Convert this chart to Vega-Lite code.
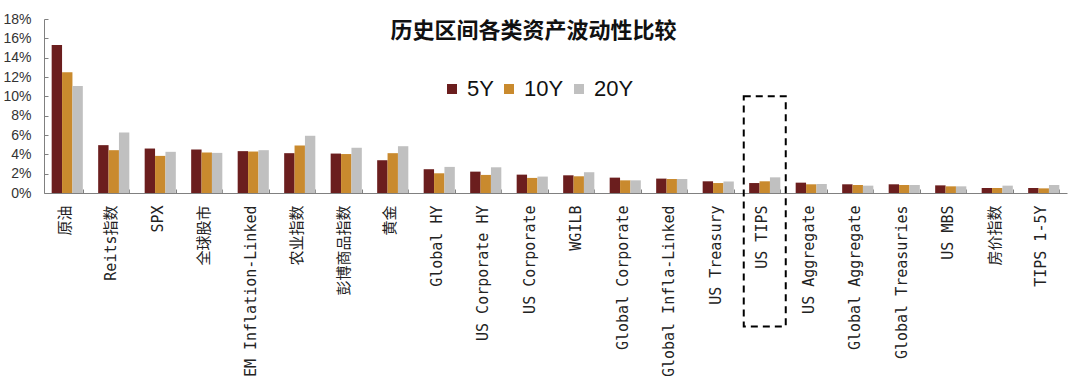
{
  "$schema": "https://vega.github.io/schema/vega-lite/v6.json",
  "width": 1023,
  "height": 174,
  "autosize": {"type": "none"},
  "padding": {"left": 44, "top": 19, "right": 13, "bottom": 183},
  "background": "white",
  "config": {"view": {"stroke": null}, "axis": {"labelOverlap": false}},
  "title": {
    "text": "历史区间各类资产波动性比较",
    "anchor": "middle",
    "font": "Noto Sans CJK SC",
    "fontSize": 22,
    "fontWeight": "bold",
    "color": "#111111",
    "dx": -22,
    "dy": 31,
    "offset": 0
  },
  "datasets": {
    "main": [
      {"c": "原油", "p": "5Y", "v": 15.3}, {"c": "原油", "p": "10Y", "v": 12.5}, {"c": "原油", "p": "20Y", "v": 11.07},
      {"c": "Reits指数", "p": "5Y", "v": 4.95}, {"c": "Reits指数", "p": "10Y", "v": 4.43}, {"c": "Reits指数", "p": "20Y", "v": 6.26},
      {"c": "SPX", "p": "5Y", "v": 4.6}, {"c": "SPX", "p": "10Y", "v": 3.84}, {"c": "SPX", "p": "20Y", "v": 4.26},
      {"c": "全球股市", "p": "5Y", "v": 4.5}, {"c": "全球股市", "p": "10Y", "v": 4.19}, {"c": "全球股市", "p": "20Y", "v": 4.15},
      {"c": "EM Inflation-Linked", "p": "5Y", "v": 4.33}, {"c": "EM Inflation-Linked", "p": "10Y", "v": 4.29}, {"c": "EM Inflation-Linked", "p": "20Y", "v": 4.43},
      {"c": "农业指数", "p": "5Y", "v": 4.12}, {"c": "农业指数", "p": "10Y", "v": 4.91}, {"c": "农业指数", "p": "20Y", "v": 5.92},
      {"c": "彭博商品指数", "p": "5Y", "v": 4.08}, {"c": "彭博商品指数", "p": "10Y", "v": 4.03}, {"c": "彭博商品指数", "p": "20Y", "v": 4.68},
      {"c": "黄金", "p": "5Y", "v": 3.39}, {"c": "黄金", "p": "10Y", "v": 4.12}, {"c": "黄金", "p": "20Y", "v": 4.84},
      {"c": "Global HY", "p": "5Y", "v": 2.46}, {"c": "Global HY", "p": "10Y", "v": 2.04}, {"c": "Global HY", "p": "20Y", "v": 2.7},
      {"c": "US Corporate HY", "p": "5Y", "v": 2.21}, {"c": "US Corporate HY", "p": "10Y", "v": 1.87}, {"c": "US Corporate HY", "p": "20Y", "v": 2.66},
      {"c": "US Corporate", "p": "5Y", "v": 1.9}, {"c": "US Corporate", "p": "10Y", "v": 1.56}, {"c": "US Corporate", "p": "20Y", "v": 1.7},
      {"c": "WGILB", "p": "5Y", "v": 1.83}, {"c": "WGILB", "p": "10Y", "v": 1.73}, {"c": "WGILB", "p": "20Y", "v": 2.15},
      {"c": "Global Corporate", "p": "5Y", "v": 1.59}, {"c": "Global Corporate", "p": "10Y", "v": 1.31}, {"c": "Global Corporate", "p": "20Y", "v": 1.31},
      {"c": "Global Infla-Linked", "p": "5Y", "v": 1.49}, {"c": "Global Infla-Linked", "p": "10Y", "v": 1.45}, {"c": "Global Infla-Linked", "p": "20Y", "v": 1.45},
      {"c": "US Treasury", "p": "5Y", "v": 1.21}, {"c": "US Treasury", "p": "10Y", "v": 1.03}, {"c": "US Treasury", "p": "20Y", "v": 1.19},
      {"c": "US TIPS", "p": "5Y", "v": 1.03}, {"c": "US TIPS", "p": "10Y", "v": 1.21}, {"c": "US TIPS", "p": "20Y", "v": 1.62},
      {"c": "US Aggregate", "p": "5Y", "v": 1.07}, {"c": "US Aggregate", "p": "10Y", "v": 0.9}, {"c": "US Aggregate", "p": "20Y", "v": 0.93},
      {"c": "Global Aggregate", "p": "5Y", "v": 0.9}, {"c": "Global Aggregate", "p": "10Y", "v": 0.83}, {"c": "Global Aggregate", "p": "20Y", "v": 0.76},
      {"c": "Global Treasuries", "p": "5Y", "v": 0.9}, {"c": "Global Treasuries", "p": "10Y", "v": 0.83}, {"c": "Global Treasuries", "p": "20Y", "v": 0.83},
      {"c": "US MBS", "p": "5Y", "v": 0.79}, {"c": "US MBS", "p": "10Y", "v": 0.69}, {"c": "US MBS", "p": "20Y", "v": 0.69},
      {"c": "房价指数", "p": "5Y", "v": 0.52}, {"c": "房价指数", "p": "10Y", "v": 0.52}, {"c": "房价指数", "p": "20Y", "v": 0.76},
      {"c": "TIPS 1-5Y", "p": "5Y", "v": 0.52}, {"c": "TIPS 1-5Y", "p": "10Y", "v": 0.48}, {"c": "TIPS 1-5Y", "p": "20Y", "v": 0.83}
    ],
    "box": [
      {"c": "US TIPS", "top": 10, "bottom": -13.8}
    ]
  },
  "layer": [
    {
      "data": {"name": "main"},
      "mark": {"type": "bar"},
      "encoding": {
        "x": {
          "field": "c",
          "type": "nominal",
          "sort": null,
          "scale": {"paddingInner": 0.33, "paddingOuter": 0.165},
          "axis": {
            "title": null,
            "labelAngle": -90,
            "labelAlign": "right",
            "labelBaseline": "middle",
            "labelOffset": -3,
            "labelFont": "DejaVu Sans Mono, Noto Sans CJK SC",
            "labelFontSize": 15,
            "labelColor": "#222222",
            "labelPadding": 16,
            "labelOverlap": false,
            "labelLimit": 300,
            "tickBand": "extent",
            "tickSize": -4,
            "tickColor": "#808080",
            "domainColor": "#808080"
          }
        },
        "xOffset": {
          "field": "p",
          "type": "nominal",
          "sort": ["5Y", "10Y", "20Y"],
          "scale": {"paddingInner": 0, "paddingOuter": 0}
        },
        "y": {
          "field": "v",
          "type": "quantitative",
          "scale": {"domain": [0, 18], "nice": false},
          "axis": {
            "title": null,
            "values": [0, 2, 4, 6, 8, 10, 12, 14, 16, 18],
            "labelExpr": "datum.value + '%'",
            "labelFont": "Liberation Sans",
            "labelFontSize": 14,
            "labelColor": "#333333",
            "labelPadding": 17,
            "labelOverlap": false,
            "labelFlush": false,
            "tickSize": -4,
            "tickColor": "#808080",
            "domainColor": "#808080",
            "grid": false
          }
        },
        "color": {
          "field": "p",
          "type": "nominal",
          "sort": ["5Y", "10Y", "20Y"],
          "scale": {"domain": ["5Y", "10Y", "20Y"], "range": ["#6B1E1E", "#C98A2E", "#C0C0C0"]},
          "legend": {
            "title": null,
            "orient": "none",
            "legendX": 397,
            "legendY": 59,
            "direction": "horizontal",
            "symbolType": "square",
            "symbolSize": 100,
            "symbolStrokeWidth": 0,
            "labelFont": "Liberation Sans",
            "labelFontSize": 22,
            "labelColor": "#111111",
            "labelOffset": 4,
            "columnPadding": 4,
            "padding": 0
          }
        }
      }
    },
    {
      "data": {"name": "box"},
      "mark": {"type": "bar", "width": 42, "fill": "transparent", "stroke": "#000000", "strokeWidth": 2, "strokeDash": [7, 5]},
      "encoding": {
        "x": {
          "field": "c",
          "type": "nominal",
          "sort": null,
          "axis": {
            "title": null,
            "labelAngle": -90,
            "labelAlign": "right",
            "labelBaseline": "middle",
            "labelOffset": -3,
            "labelFont": "DejaVu Sans Mono, Noto Sans CJK SC",
            "labelFontSize": 15,
            "labelColor": "#222222",
            "labelPadding": 16,
            "labelOverlap": false,
            "labelLimit": 300,
            "tickBand": "extent",
            "tickSize": -4,
            "tickColor": "#808080",
            "domainColor": "#808080"
          }
        },
        "y": {
          "field": "top",
          "type": "quantitative",
          "axis": {
            "title": null,
            "values": [0, 2, 4, 6, 8, 10, 12, 14, 16, 18],
            "labelExpr": "datum.value + '%'",
            "labelFont": "Liberation Sans",
            "labelFontSize": 14,
            "labelColor": "#333333",
            "labelPadding": 17,
            "labelOverlap": false,
            "labelFlush": false,
            "tickSize": -4,
            "tickColor": "#808080",
            "domainColor": "#808080",
            "grid": false
          }
        },
        "y2": {"field": "bottom"}
      }
    }
  ]
}
